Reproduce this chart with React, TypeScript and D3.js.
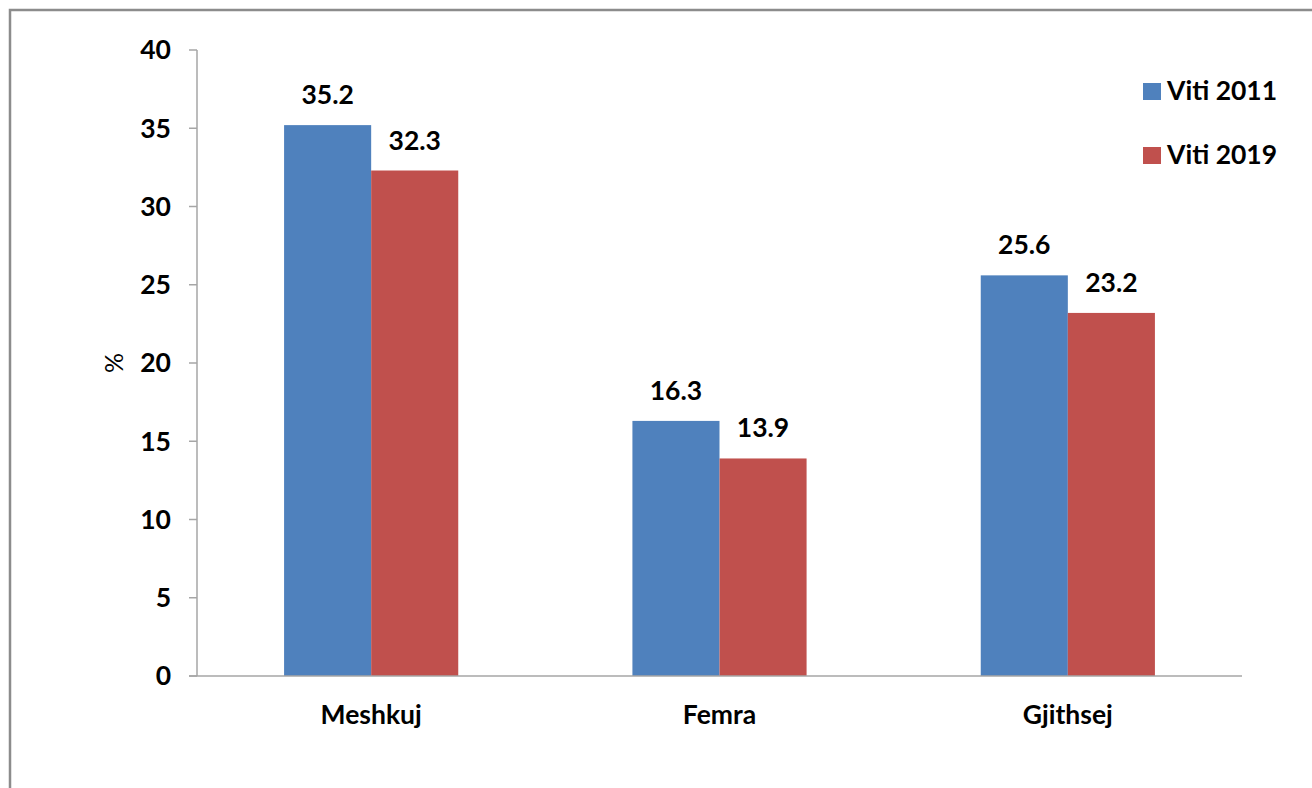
import React from "react";
import * as d3 from "d3";

const categories = ["Meshkuj", "Femra", "Gjithsej"];
const seriesNames = ["Viti 2011", "Viti 2019"];
const values2011 = [35.2, 16.3, 25.6];
const values2019 = [32.3, 13.9, 23.2];
const yTicks = [0, 5, 10, 15, 20, 25, 30, 35, 40];
const colors = ["#4F81BD", "#C0504D"];

const W = 1312;
const H = 788;
const FONT = "Lato, 'Open Sans', sans-serif";
const FS = 26.5;

export default function App() {
  const x0 = 197, x1 = 1242, yTop = 50, yBot = 676;
  const y = d3.scaleLinear().domain([0, 40]).range([yBot, yTop]);
  const xBand = d3.scaleBand().domain(categories).range([x0, x1]).paddingInner(0.5).paddingOuter(0.25);
  const xSub = d3.scaleBand().domain(seriesNames).range([0, xBand.bandwidth()]);
  const series = [values2011, values2019];

  return (
    <svg width={W} height={H} style={{ position: "absolute", left: 0, top: 0, background: "#fff" }}>
      <rect x={0} y={0} width={W} height={H} fill="#fff" />
      <rect x={10} y={10} width={W + 20} height={H + 20} fill="none" stroke="#8c8c8c" strokeWidth={2.5} />
      {/* y axis */}
      <line x1={x0} x2={x0} y1={yTop} y2={yBot} stroke="#a6a6a6" strokeWidth={1.5} />
      {yTicks.map((t) => (
        <g key={t}>
          <line x1={x0 - 8} x2={x0} y1={y(t)} y2={y(t)} stroke="#a6a6a6" strokeWidth={1.5} />
          <text x={171} y={y(t)} dy="0.35em" textAnchor="end" fontFamily={FONT} fontWeight="bold" fontSize={FS} fill="#000">
            {t}
          </text>
        </g>
      ))}
      <text transform={`translate(123,363) rotate(-90)`} textAnchor="middle" fontFamily={FONT} fontSize={25} fill="#000">%</text>
      {/* bars */}
      {categories.map((c, i) => (
        <g key={c} transform={`translate(${xBand(c)},0)`}>
          {series.map((s, j) => (
            <g key={j}>
              <rect x={xSub(seriesNames[j])} y={y(s[i])} width={xSub.bandwidth()} height={yBot - y(s[i])} fill={colors[j]} />
              <text x={(xSub(seriesNames[j]) as number) + xSub.bandwidth() / 2} y={y(s[i]) - 21} textAnchor="middle" fontFamily={FONT} fontWeight="bold" fontSize={FS} fill="#000">
                {s[i].toFixed(1)}
              </text>
            </g>
          ))}
        </g>
      ))}
      {/* x axis */}
      <line x1={x0 - 8} x2={x1} y1={yBot} y2={yBot} stroke="#a6a6a6" strokeWidth={1.5} />
      {categories.map((c) => (
        <text key={c} x={(xBand(c) as number) + xBand.bandwidth() / 2} y={724} textAnchor="middle" fontFamily={FONT} fontWeight="bold" fontSize={FS} fill="#000">
          {c}
        </text>
      ))}
      {/* legend */}
      {seriesNames.map((n, j) => (
        <g key={n} transform={`translate(1143,${83 + j * 64})`}>
          <rect x={0} y={0} width={18} height={17} fill={colors[j]} />
          <text x={24} y={17} fontFamily={FONT} fontWeight="bold" fontSize={FS} fill="#000">{n}</text>
        </g>
      ))}
    </svg>
  );
}
